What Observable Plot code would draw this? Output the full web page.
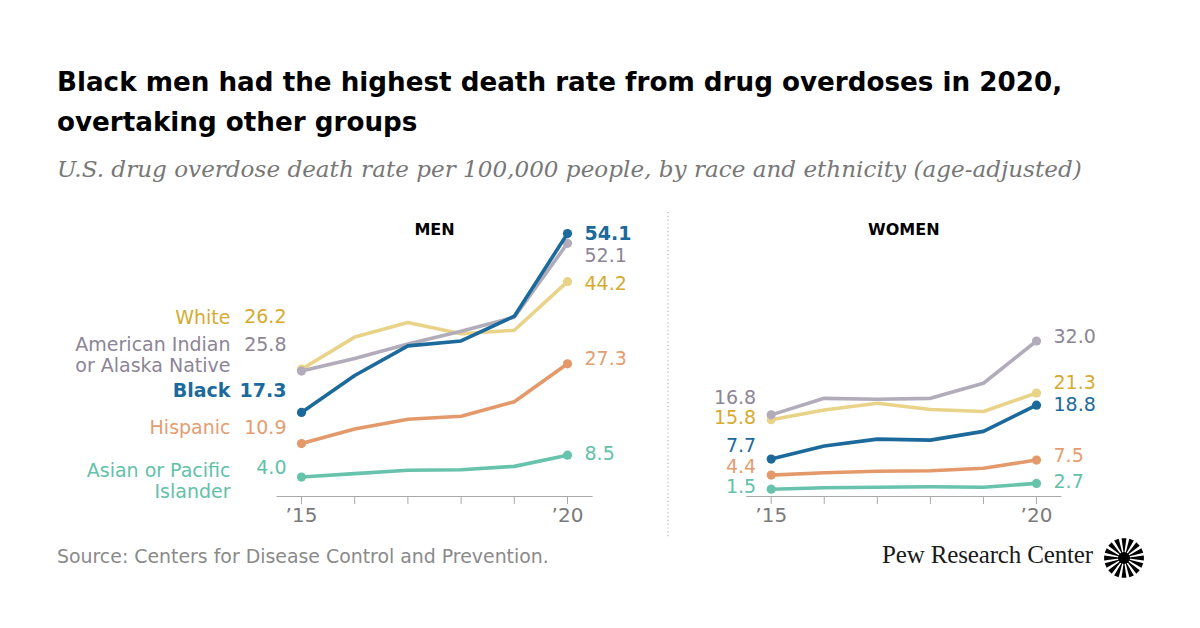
<!DOCTYPE html>
<html>
<head>
<meta charset="utf-8">
<script src="https://cdn.jsdelivr.net/npm/d3@7"></script>
<script src="https://cdn.jsdelivr.net/npm/@observablehq/plot@0.6"></script>
<style>
  html, body { margin: 0; padding: 0; background: #fff; }
  #root { position: relative; width: 1200px; height: 628px; overflow: hidden; background: #fff; font-family: "DejaVu Sans", sans-serif; }
  .abs { position: absolute; white-space: nowrap; }
  #title { left: 57px; top: 62px; font-size: 26.2px; font-weight: 700; line-height: 40px; color: #000; }
  #subtitle { left: 57px; top: 156px; font-family: "DejaVu Serif", serif; font-style: italic; font-size: 23.1px; color: #777; }
  #source { left: 57px; top: 545px; font-size: 18.9px; color: #8a8a8a; }
  #brand { left: 882px; top: 541px; font-family: "Liberation Serif", serif; font-size: 25px; color: #1a1a1a; letter-spacing: -0.15px; }
</style>
</head>
<body>
<div id="root">
  <div id="title" class="abs">Black men had the highest death rate from drug overdoses in 2020,<br>overtaking other groups</div>
  <div id="subtitle" class="abs">U.S. drug overdose death rate per 100,000 people, by race and ethnicity (age-adjusted)</div>
  <div id="men" class="abs" style="left:0;top:200px"></div>
  <div id="women" class="abs" style="left:668px;top:200px"></div>
  <svg id="divider" class="abs" style="left:666px;top:210px" width="4" height="330"></svg>
  <div id="source" class="abs">Source: Centers for Disease Control and Prevention.</div>
  <div id="brand" class="abs">Pew Research Center</div>
  <svg id="logo" class="abs" style="left:1102px;top:536px" width="44" height="44"></svg>
</div>
<script>
// ---------- data ----------
const years = [2015, 2016, 2017, 2018, 2019, 2020];
const groups = ["White", "American Indian or Alaska Native", "Black", "Hispanic", "Asian or Pacific Islander"];
const groupNames = ["White", "American Indian\nor Alaska Native", "Black", "Hispanic", "Asian or Pacific\nIslander"];

const menWhite    = [26.2, 32.8, 35.8, 33.5, 34.2, 44.2];
const menAIAN     = [25.8, 28.4, 31.4, 34.0, 36.9, 52.1];
const menBlack    = [17.3, 24.9, 31.0, 32.0, 37.1, 54.1];
const menHispanic = [10.9, 13.9, 15.9, 16.5, 19.5, 27.3];
const menAsian    = [4.0, 4.7, 5.4, 5.5, 6.2, 8.5];

const womenWhite    = [15.8, 17.8, 19.2, 17.9, 17.5, 21.3];
const womenAIAN     = [16.8, 20.2, 20.0, 20.2, 23.3, 32.0];
const womenBlack    = [7.7, 10.4, 11.8, 11.6, 13.4, 18.8];
const womenHispanic = [4.4, 4.9, 5.2, 5.3, 5.8, 7.5];
const womenAsian    = [1.5, 1.8, 1.9, 2.0, 1.9, 2.7];

const panelTitles = ["MEN", "WOMEN"];

// ---------- styles / layout ----------
const lineColors  = ["#e8d388", "#b2acba", "#1c6a9c", "#e4996b", "#68c3ac"];
const labelColors = ["#d6ab2f", "#8c8597", "#1c6a9c", "#e49d70", "#62c1a8"];
const boldGroup = "Black";
const pxPerUnit = 4.86;
const plotH = 330, axisY = 296;
const labelSize = 19;
// label vertical offsets (px), per group in order of `groups`
const menStartValueDy = [-52, -26, -22, -16, -9];
const menStartNameDy  = [-52, -16, -22, -16, 4];
const menEndDy        = [2, 13, 0, -5, -1];
const womenStartDy    = [-2, -17, -13, -8, -2];
const womenEndDy      = [-10, -4, 0, -4, -1];

const fmt = d3.format(".1f");

function rowsFor(seriesList) {
  const rows = [];
  groups.forEach((g, gi) => {
    years.forEach((yr, yi) => rows.push({group: g, year: yr, value: seriesList[gi][yi], gi}));
  });
  return rows;
}

function panel({seriesList, title, width, xRange, startValueDy, startNameDy, endDy, showNames, boldStart, boldEnd}) {
  const rows = rowsFor(seriesList);
  const first = years[0], last = years[years.length - 1];
  const ends = rows.filter(d => d.year === first || d.year === last);
  const drawOrder = [4, 3, 0, 1, 2];
  const marks = [];
  marks.push(Plot.ruleY([0], {x1: () => first - 0.46, x2: () => last + 0.48, stroke: "#a9a9a9", strokeWidth: 1.2}));
  marks.push(Plot.axisX({
    ticks: years, tickSize: 8, tickPadding: 3, stroke: "#a9a9a9", fill: "#7a7a7a", label: null,
    fontSize: 20, tickFormat: d => (d === first || d === last) ? "\u2019" + String(d).slice(2) : ""
  }));
  drawOrder.forEach(gi => {
    const r = rows.filter(d => d.gi === gi);
    marks.push(Plot.line(r, {x: "year", y: "value", stroke: lineColors[gi], strokeWidth: 3.6, strokeLinejoin: "round", strokeLinecap: "round"}));
    marks.push(Plot.dot(ends.filter(d => d.gi === gi), {x: "year", y: "value", fill: lineColors[gi], r: 4.6}));
  });
  groups.forEach((g, gi) => {
    const s = rows.filter(d => d.gi === gi && d.year === first);
    const e = rows.filter(d => d.gi === gi && d.year === last);
    const bold = g === boldGroup;
    marks.push(Plot.text(s, {x: "year", y: "value", text: d => fmt(d.value), textAnchor: "end", dx: -15, dy: startValueDy[gi],
      fill: labelColors[gi], fontSize: labelSize, fontWeight: bold && boldStart ? 700 : 400}));
    if (showNames) {
      marks.push(Plot.text(s, {x: "year", y: "value", text: () => groupNames[gi], textAnchor: "end", dx: -71, dy: startNameDy[gi],
        fill: labelColors[gi], fontSize: labelSize, lineHeight: 1.1, fontWeight: bold ? 700 : 400}));
    }
    marks.push(Plot.text(e, {x: "year", y: "value", text: d => fmt(d.value), textAnchor: "start", dx: 17, dy: endDy[gi],
      fill: labelColors[gi], fontSize: labelSize, fontWeight: bold && boldEnd ? 700 : 400}));
  });
  marks.push(Plot.text([title], {x: () => (first + last) / 2, frameAnchor: "top", lineAnchor: "middle", dy: 29,
    text: d => d, fill: "#000", fontSize: 16, fontWeight: 700, letterSpacing: "0.5px"}));

  return Plot.plot({
    width, height: plotH,
    marginTop: 0, marginBottom: plotH - axisY, marginLeft: 0, marginRight: 0,
    x: {domain: [first, last], range: xRange, label: null},
    y: {domain: [0, 60], range: [axisY, axisY - 60 * pxPerUnit], axis: null},
    style: {fontFamily: "'DejaVu Sans', sans-serif", background: "transparent", overflow: "visible"},
    marks
  });
}

document.getElementById("men").append(panel({
  seriesList: [menWhite, menAIAN, menBlack, menHispanic, menAsian], title: panelTitles[0], width: 668,
  xRange: [301, 567], startValueDy: menStartValueDy, startNameDy: menStartNameDy, endDy: menEndDy,
  showNames: true, boldStart: true, boldEnd: true
}));
document.getElementById("women").append(panel({
  seriesList: [womenWhite, womenAIAN, womenBlack, womenHispanic, womenAsian], title: panelTitles[1], width: 532,
  xRange: [102.7, 368], startValueDy: womenStartDy, startNameDy: womenStartDy, endDy: womenEndDy,
  showNames: false, boldStart: false, boldEnd: false
}));

// divider
d3.select("#divider").append("line").attr("x1", 2).attr("x2", 2).attr("y1", 2).attr("y2", 328)
  .attr("stroke", "#b5b5b5").attr("stroke-width", 1.2).attr("stroke-dasharray", "1.2,2.6");

// logo (sunburst)
const logo = d3.select("#logo").append("g").attr("transform", "translate(22,22)");
const nRays = 16;
for (let i = 0; i < nRays; i++) {
  const a = (i / nRays) * 2 * Math.PI;
  const w = Math.PI / nRays * 0.62;
  const r0 = 3, r1 = 20;
  const p = [
    [Math.cos(a - w * 0.35) * r0, Math.sin(a - w * 0.35) * r0],
    [Math.cos(a - w) * r1, Math.sin(a - w) * r1],
    [Math.cos(a + w) * r1, Math.sin(a + w) * r1],
    [Math.cos(a + w * 0.35) * r0, Math.sin(a + w * 0.35) * r0]
  ];
  logo.append("path").attr("d", "M" + p.map(q => q.join(",")).join("L") + "Z").attr("fill", "#000");
}
logo.append("circle").attr("r", 6).attr("fill", "#000");
</script>
</body>
</html>
